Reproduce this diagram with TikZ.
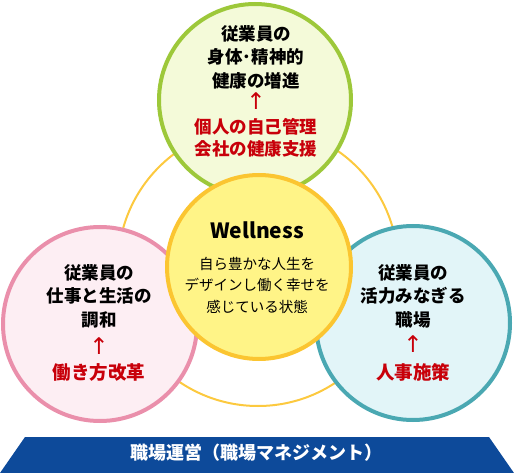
\documentclass[tikz,border=0pt]{standalone}
\usepackage{fontspec}
\setmainfont{Noto Sans CJK JP}
\newfontfamily\arrowfont{DejaVu Sans}
\definecolor{leafline}{HTML}{9DC83A}
\definecolor{leaffill}{HTML}{F4FAD9}
\definecolor{roseline}{HTML}{EA8FAB}
\definecolor{rosefill}{HTML}{FDEEF3}
\definecolor{tealline}{HTML}{4AA8B2}
\definecolor{tealfill}{HTML}{E2F5F8}
\definecolor{coreline}{HTML}{FBC531}
\definecolor{corefill}{HTML}{FFF487}
\definecolor{ringline}{HTML}{FCC93F}
\definecolor{accred}{HTML}{C8000A}
\definecolor{bandblue}{HTML}{0D4A9A}
\begin{document}
\begin{tikzpicture}[x=1pt,y=-1pt,
  bubble/.style={circle,draw,line width=4pt,inner sep=0pt,minimum size=#1},
  maintext/.style={align=center,font=\fontsize{17.5}{23.5}\selectfont\bfseries},
  measuretext/.style={align=center,text=accred,font=\fontsize{18.5}{22}\selectfont\bfseries},
  uparrow/.style={text=accred,font=\arrowfont\fontsize{23}{23}\selectfont}]
 \useasboundingbox (0,0) rectangle (514,473);

 % Outer ring
 \draw[ringline,line width=2pt] (258,266) circle[radius=140];

 % Three outer circles
 \node[bubble=192,draw=leafline,fill=leaffill] (body) at (255,100) {};
 \node[bubble=194,draw=roseline,fill=rosefill] (life) at (100,324) {};
 \node[bubble=194,draw=tealline,fill=tealfill] (work) at (413,323) {};

 % Centre circle
 \node[bubble=184,draw=coreline,fill=corefill] (core) at (259,267) {};

 % Top: health
 \node[maintext] (bodyhead) at (256,57) {従業員の\\身体･精神的\\健康の増進};
 \node[uparrow] (bodyup) at (256,101) {↑};
 \node[measuretext,font=\fontsize{17.5}{22}\selectfont\bfseries] (bodymeasure) at (256,138) {個人の自己管理\\会社の健康支援};

 % Left: work and life
 \node[maintext] (lifehead) at (99,296) {従業員の\\仕事と生活の\\調和};
 \node[uparrow] (lifeup) at (99,346) {↑};
 \node[measuretext] (lifemeasure) at (99,372) {働き方改革};

 % Right: workplace
 \node[maintext] (workhead) at (413,296) {従業員の\\活力みなぎる\\職場};
 \node[uparrow] (workup) at (413,344) {↑};
 \node[measuretext] (workmeasure) at (413,372) {人事施策};

 % Centre text
 \node[font=\fontsize{21}{21}\selectfont\bfseries] (title) at (257,230) {Wellness};
 \node[align=center,font=\fontsize{14.5}{21.5}\selectfont] (coretext) at (257,285) {自ら豊かな人生を\\デザインし働く幸せを\\感じている状態};

 % Base band
 \fill[bandblue] (25,437) -- (489,437) -- (514,473) -- (0,473) -- cycle;
 \node[text=white,font=\fontsize{18}{18}\selectfont\bfseries] (band) at (256,453) {職場運営（職場マネジメント）};

\end{tikzpicture}
\end{document}
